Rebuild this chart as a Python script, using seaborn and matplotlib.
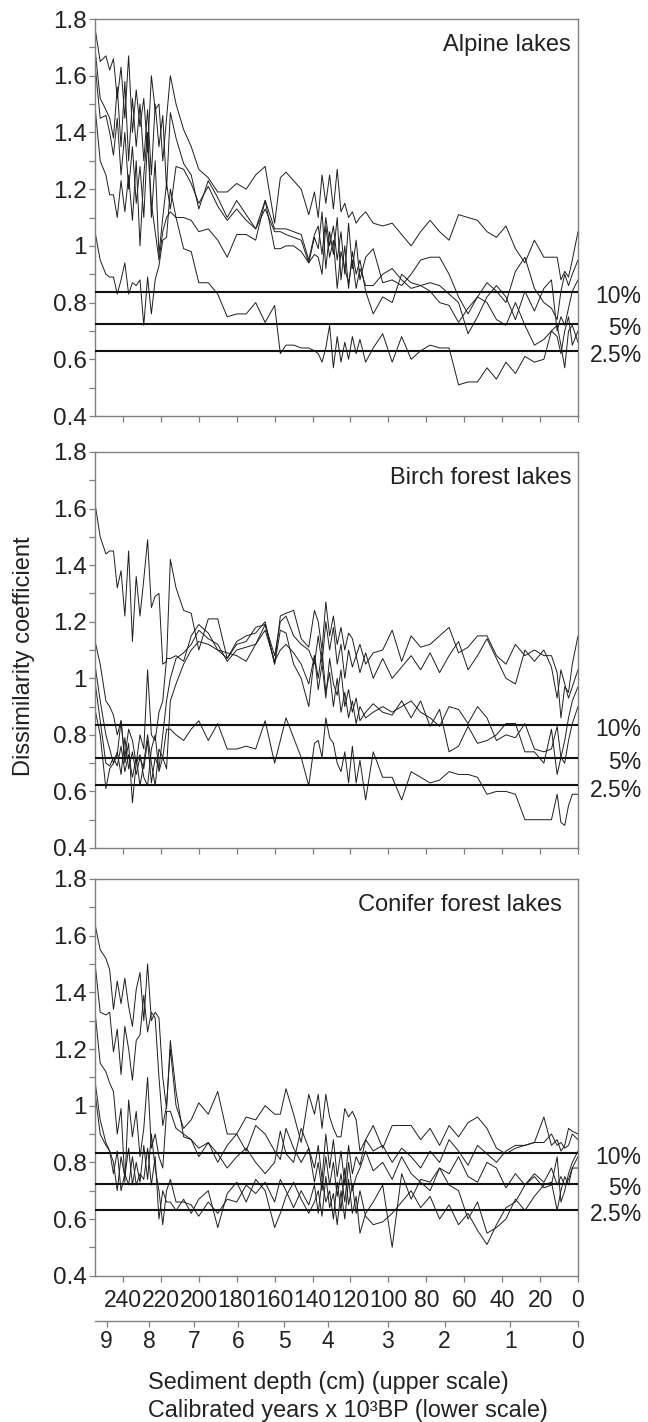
import matplotlib
matplotlib.use("Agg")
import matplotlib.pyplot as plt
import matplotlib.transforms as mtransforms
import numpy as np
import pandas as pd
import seaborn as sns

# sample depths (cm), shared by every curve
depth = [255, 252, 249, 247, 245, 243, 241, 239, 237, 235,
         233, 231, 229, 227, 225, 223, 221, 219, 217, 215,
         212, 208, 204, 200, 195, 190, 185, 180, 175, 170,
         165, 160, 157, 154, 150, 146, 142, 139, 137, 135,
         133, 131, 129, 127, 125, 123, 121, 119, 117, 115,
         112, 108, 103, 98, 93, 88, 83, 78, 73, 68,
         63, 58, 53, 48, 43, 38, 33, 28, 23, 18,
         14, 11, 9, 7, 5, 3, 0]

alpine_a = [1.78, 1.65, 1.67, 1.62, 1.66, 1.52, 1.63, 1.45, 1.67, 1.40,
            1.55, 1.42, 1.52, 1.33, 1.60, 1.48, 1.50, 1.30, 1.45, 1.60,
            1.50, 1.41, 1.35, 1.27, 1.24, 1.19, 1.19, 1.22, 1.20, 1.25,
            1.28, 1.08, 1.24, 1.26, 1.23, 1.20, 1.11, 1.19, 1.10, 1.25,
            1.15, 1.25, 1.13, 1.27, 1.12, 1.15, 1.10, 1.12, 1.08, 1.10,
            1.12, 1.08, 1.07, 1.08, 1.04, 1.00, 1.05, 1.09, 1.05, 1.02,
            1.11, 1.10, 1.09, 1.05, 1.03, 1.07, 0.99, 0.94, 1.02, 0.96,
            0.96, 0.96, 0.88, 0.91, 0.89, 0.95, 1.05]
alpine_b = [1.71, 1.52, 1.48, 1.45, 1.38, 1.56, 1.35, 1.58, 1.30, 1.52,
            1.35, 1.50, 1.30, 1.48, 1.25, 1.50, 1.35, 1.46, 1.20, 1.47,
            1.38, 1.29, 1.25, 1.13, 1.23, 1.17, 1.10, 1.16, 1.11, 1.06,
            1.16, 1.06, 1.06, 1.06, 1.05, 1.04, 0.95, 1.04, 1.07, 0.97,
            1.10, 1.00, 1.07, 0.95, 1.05, 0.90, 1.08, 0.92, 1.02, 0.88,
            0.96, 0.99, 0.87, 0.88, 0.86, 0.90, 0.95, 0.96, 0.96, 0.90,
            0.82, 0.76, 0.82, 0.87, 0.84, 0.80, 0.91, 0.96, 0.85, 0.80,
            0.78, 0.74, 0.84, 0.90, 0.86, 0.90, 0.95]
alpine_c = [1.66, 1.45, 1.46, 1.40, 1.32, 1.45, 1.25, 1.40, 1.20, 1.35,
            1.15, 1.28, 1.10, 1.38, 1.15, 1.05, 0.95, 1.05, 1.10, 1.12,
            1.10, 1.10, 1.09, 1.05, 1.06, 1.02, 0.96, 1.04, 1.04, 1.02,
            1.16, 0.99, 0.99, 1.00, 1.00, 0.98, 0.94, 0.97, 0.96, 0.90,
            1.07, 0.96, 1.02, 0.85, 0.98, 0.92, 0.87, 0.95, 0.85, 0.92,
            0.86, 0.86, 0.90, 0.92, 0.88, 0.85, 0.86, 0.87, 0.86, 0.83,
            0.80, 0.69, 0.75, 0.82, 0.86, 0.82, 0.74, 0.84, 0.77, 0.85,
            0.88, 0.70, 0.75, 0.72, 0.78, 0.84, 0.88]
alpine_d = [1.51, 1.30, 1.25, 1.18, 1.18, 1.10, 1.23, 1.12, 1.25, 1.09,
            1.30, 1.00, 1.25, 1.40, 1.10, 1.30, 0.97, 1.10, 1.22, 1.13,
            1.28, 1.27, 1.22, 1.15, 1.21, 1.14, 1.09, 1.13, 1.09, 1.06,
            1.13, 1.05, 1.05, 1.04, 1.03, 1.02, 0.94, 1.03, 0.99, 1.12,
            0.92, 1.05, 0.97, 1.10, 0.88, 1.00, 0.85, 0.98, 0.90, 0.95,
            0.84, 0.76, 0.82, 0.80, 0.90, 0.87, 0.86, 0.84, 0.80, 0.79,
            0.73, 0.78, 0.82, 0.80, 0.74, 0.72, 0.80, 0.72, 0.65, 0.67,
            0.70, 0.68, 0.62, 0.70, 0.75, 0.65, 0.70]
alpine_e = [1.06, 0.95, 0.90, 0.89, 0.89, 0.83, 0.88, 0.94, 0.83, 0.87,
            0.86, 0.88, 0.72, 0.89, 0.76, 0.88, 0.93, 1.02, 1.03, 1.20,
            1.10, 0.99, 0.98, 0.87, 0.87, 0.83, 0.75, 0.76, 0.76, 0.80,
            0.73, 0.79, 0.62, 0.65, 0.65, 0.64, 0.64, 0.63, 0.62, 0.59,
            0.64, 0.72, 0.57, 0.68, 0.59, 0.66, 0.60, 0.68, 0.62, 0.67,
            0.59, 0.64, 0.69, 0.59, 0.68, 0.60, 0.63, 0.65, 0.64, 0.64,
            0.51, 0.52, 0.52, 0.57, 0.53, 0.59, 0.55, 0.61, 0.59, 0.60,
            0.70, 0.72, 0.65, 0.57, 0.70, 0.72, 0.66]

birch_a = [1.63, 1.50, 1.44, 1.45, 1.45, 1.32, 1.38, 1.22, 1.45, 1.13,
           1.36, 1.22, 1.35, 1.49, 1.25, 1.29, 1.30, 1.05, 1.06, 1.42,
           1.32, 1.24, 1.23, 1.10, 1.21, 1.21, 1.07, 1.13, 1.15, 1.16,
           1.20, 1.05, 1.22, 1.23, 1.24, 1.14, 1.11, 1.24, 1.20, 1.10,
           1.27, 1.15, 1.22, 1.12, 1.18, 1.10, 1.16, 1.14, 1.08, 1.12,
           1.05, 1.09, 1.10, 1.17, 1.06, 1.15, 1.11, 1.12, 1.15, 1.18,
           1.09, 1.11, 1.15, 1.15, 1.08, 1.05, 1.12, 1.08, 1.10, 1.08,
           1.08, 1.02, 0.86, 0.97, 0.95, 1.05, 1.15]
birch_b = [1.14, 1.05, 0.92, 0.90, 0.87, 0.80, 0.85, 0.72, 0.82, 0.78,
           0.70, 0.80, 0.75, 1.03, 0.80, 0.78, 0.88, 0.92, 1.07, 1.07,
           1.08, 1.06, 1.15, 1.19, 1.16, 1.10, 1.07, 1.12, 1.13, 1.18,
           1.19, 1.08, 1.20, 1.22, 1.15, 1.12, 1.10, 1.05, 1.15, 1.05,
           1.20, 1.10, 1.18, 1.05, 1.12, 1.00, 1.10, 1.04, 1.08, 1.02,
           1.09, 1.00, 1.07, 1.00, 1.04, 1.08, 1.03, 1.09, 1.02, 1.08,
           1.13, 1.03, 1.08, 1.14, 1.07, 1.00, 0.98, 1.10, 1.06, 1.10,
           1.04, 0.93, 1.03, 0.98, 0.93, 0.97, 1.03]
birch_c = [1.06, 0.92, 0.80, 0.75, 0.70, 0.74, 0.66, 0.79, 0.68, 0.74,
           0.66, 0.72, 0.68, 0.78, 0.63, 0.72, 0.68, 0.80, 0.92, 1.00,
           1.07, 1.09, 1.12, 1.17, 1.14, 1.12, 1.06, 1.10, 1.11, 1.12,
           1.17, 1.06, 1.10, 1.12, 1.09, 1.05, 0.98, 1.08, 0.96, 1.05,
           0.93, 1.07, 0.98, 0.94, 1.03, 0.90, 0.96, 0.88, 0.93, 0.85,
           0.88, 0.91, 0.88, 0.87, 0.92, 0.86, 0.92, 0.83, 0.89, 0.74,
           0.76, 0.83, 0.77, 0.78, 0.80, 0.84, 0.84, 0.74, 0.74, 0.70,
           0.82, 0.66, 0.72, 0.78, 0.86, 0.92, 0.97]
birch_d = [1.00, 0.85, 0.70, 0.69, 0.72, 0.69, 0.76, 0.67, 0.73, 0.65,
           0.72, 0.62, 0.70, 0.80, 0.70, 0.62, 0.75, 0.72, 0.68, 0.92,
           0.98, 1.05, 1.10, 1.13, 1.12, 1.10, 1.09, 1.08, 1.06, 1.12,
           1.19, 1.05, 1.17, 1.16, 1.05, 1.00, 0.90, 1.08, 1.00, 1.10,
           0.95, 1.02, 0.90, 1.00, 0.88, 0.95, 0.86, 0.92, 0.84, 0.90,
           0.86, 0.88, 0.90, 0.88, 0.90, 0.92, 0.88, 0.86, 0.83, 0.90,
           0.89, 0.84, 0.90, 0.86, 0.78, 0.80, 0.79, 0.84, 0.75, 0.74,
           0.75, 0.83, 0.72, 0.70, 0.78, 0.84, 0.90]
birch_e = [0.90, 0.80, 0.61, 0.68, 0.70, 0.73, 0.85, 0.70, 0.77, 0.56,
           0.70, 0.73, 0.65, 0.62, 0.75, 0.80, 0.67, 0.72, 0.82, 0.82,
           0.80, 0.78, 0.82, 0.85, 0.78, 0.84, 0.75, 0.75, 0.76, 0.75,
           0.85, 0.70, 0.78, 0.86, 0.79, 0.72, 0.62, 0.77, 0.78, 0.72,
           0.86, 0.79, 0.77, 0.70, 0.67, 0.74, 0.63, 0.76, 0.63, 0.71,
           0.57, 0.74, 0.65, 0.65, 0.57, 0.67, 0.65, 0.63, 0.64, 0.67,
           0.66, 0.66, 0.65, 0.59, 0.60, 0.60, 0.59, 0.50, 0.50, 0.50,
           0.50, 0.59, 0.49, 0.48, 0.55, 0.59, 0.59]

conifer_a = [1.65, 1.55, 1.52, 1.48, 1.34, 1.44, 1.36, 1.45, 1.35, 1.28,
             1.41, 1.47, 1.30, 1.50, 1.30, 1.33, 1.31, 1.10, 0.99, 1.23,
             1.05, 0.89, 0.88, 0.82, 0.87, 0.80, 0.86, 0.90, 0.84, 0.93,
             0.90, 0.84, 0.81, 0.92, 0.85, 0.80, 0.85, 0.78, 0.86, 0.74,
             0.90, 0.78, 0.88, 0.75, 0.84, 0.72, 0.86, 0.76, 0.82, 0.79,
             0.88, 0.84, 0.86, 0.80, 0.85, 0.82, 0.78, 0.84, 0.80, 0.88,
             0.84, 0.79, 0.86, 0.83, 0.80, 0.84, 0.86, 0.86, 0.87, 0.87,
             0.90, 0.86, 0.87, 0.85, 0.86, 0.90, 0.88]
conifer_b = [1.52, 1.33, 1.32, 1.33, 1.19, 1.27, 1.11, 1.28, 1.20, 1.09,
             1.23, 1.25, 1.39, 1.26, 1.33, 1.31, 1.10, 0.93, 1.00, 1.20,
             1.00, 0.92, 0.95, 1.01, 0.97, 1.05, 0.90, 0.90, 0.96, 0.95,
             1.00, 0.97, 0.97, 1.06, 0.97, 0.87, 1.04, 0.97, 1.04, 0.92,
             1.04, 0.96, 0.92, 0.89, 0.89, 0.99, 0.96, 0.98, 0.95, 0.84,
             0.88, 0.93, 0.85, 0.93, 0.93, 0.93, 0.88, 0.92, 0.86, 0.93,
             0.89, 0.94, 0.96, 0.92, 0.85, 0.83, 0.85, 0.86, 0.87, 0.96,
             0.86, 0.88, 0.84, 0.86, 0.92, 0.91, 0.90]
conifer_c = [1.35, 1.15, 1.12, 1.08, 1.05, 0.90, 0.99, 0.73, 1.02, 0.89,
             0.98, 0.82, 0.92, 1.10, 0.85, 0.90, 0.82, 0.78, 0.98, 0.98,
             0.92, 0.90, 0.88, 0.85, 0.87, 0.83, 0.78, 0.82, 0.85, 0.80,
             0.76, 0.80, 0.91, 0.83, 0.80, 0.92, 0.85, 0.73, 0.80, 0.70,
             0.82, 0.72, 0.80, 0.68, 0.76, 0.66, 0.80, 0.70, 0.75, 0.78,
             0.84, 0.77, 0.80, 0.74, 0.82, 0.76, 0.73, 0.70, 0.78, 0.76,
             0.82, 0.75, 0.73, 0.80, 0.78, 0.71, 0.76, 0.72, 0.75, 0.71,
             0.72, 0.82, 0.66, 0.70, 0.76, 0.80, 0.84]
conifer_d = [1.10, 0.95, 0.87, 0.84, 0.80, 0.70, 0.82, 0.75, 0.85, 0.72,
             0.80, 0.73, 0.86, 0.74, 0.90, 0.78, 0.70, 0.58, 0.70, 0.74,
             0.66, 0.66, 0.65, 0.61, 0.66, 0.62, 0.67, 0.66, 0.72, 0.69,
             0.73, 0.66, 0.74, 0.70, 0.64, 0.70, 0.65, 0.72, 0.62, 0.74,
             0.66, 0.70, 0.60, 0.73, 0.63, 0.78, 0.65, 0.72, 0.62, 0.70,
             0.61, 0.58, 0.59, 0.62, 0.66, 0.70, 0.64, 0.68, 0.60, 0.65,
             0.58, 0.62, 0.56, 0.51, 0.58, 0.64, 0.66, 0.72, 0.76, 0.73,
             0.78, 0.72, 0.75, 0.72, 0.74, 0.78, 0.82]
conifer_e = [1.06, 0.90, 0.86, 0.84, 0.76, 0.84, 0.70, 0.76, 0.72, 0.82,
             0.72, 0.76, 0.74, 0.85, 0.72, 0.82, 0.60, 0.70, 0.66, 0.66,
             0.63, 0.67, 0.62, 0.67, 0.70, 0.57, 0.69, 0.73, 0.66, 0.74,
             0.70, 0.57, 0.62, 0.68, 0.73, 0.67, 0.62, 0.66, 0.70, 0.61,
             0.75, 0.64, 0.69, 0.58, 0.70, 0.60, 0.74, 0.62, 0.68, 0.55,
             0.62, 0.66, 0.72, 0.50, 0.76, 0.67, 0.74, 0.73, 0.78, 0.72,
             0.70, 0.60, 0.66, 0.55, 0.57, 0.60, 0.67, 0.63, 0.68, 0.72,
             0.73, 0.63, 0.70, 0.75, 0.72, 0.78, 0.78]

panel_titles = ["Alpine lakes", "Birch forest lakes", "Conifer forest lakes"]
panel_series = [[alpine_a, alpine_b, alpine_c, alpine_d, alpine_e],
                [birch_a, birch_b, birch_c, birch_d, birch_e],
                [conifer_a, conifer_b, conifer_c, conifer_d, conifer_e]]
# 10%, 5%, 2.5% cut levels for each panel
cut_labels = ["10%", "5%", "2.5%"]
cut_values = [[0.837, 0.723, 0.630],
              [0.836, 0.719, 0.621],
              [0.833, 0.724, 0.632]]

depth_ticks = [240, 220, 200, 180, 160, 140, 120, 100, 80, 60, 40, 20, 0]
age_labels = ["9", "8", "7", "6", "5", "4", "3", "2", "1", "0"]
age_depths = [248.6, 226, 202.4, 179.2, 155, 132, 100.4, 70.4, 35.7, 0]

sns.set_style("ticks")
plt.rcParams['font.family'] = ['Liberation Sans', 'DejaVu Sans']

W, H = 648, 1422
fig = plt.figure(figsize=(W / 100, H / 100), dpi=100)

grey = "#808080"
left = 94.5 / W
width = 483.5 / W
tops = [19, 452, 879]
bottoms = [416, 848, 1275.7]
title_x = [0.9855, 0.987, 0.966]

for k in range(3):
    ax = fig.add_axes([left, 1 - bottoms[k] / H, width, (bottoms[k] - tops[k]) / H])
    rows = []
    for j, vals in enumerate(panel_series[k]):
        rows.append(pd.DataFrame({"depth": depth, "value": vals, "series": j}))
    df = pd.concat(rows, ignore_index=True)
    sns.lineplot(data=df, x="depth", y="value", units="series", estimator=None,
                 sort=False, color="#1e1e1e", linewidth=0.7, legend=False, ax=ax)

    trans = mtransforms.blended_transform_factory(ax.transAxes, ax.transData)
    for lbl, v in zip(cut_labels, cut_values[k]):
        ax.axhline(v, color="#111111", linewidth=1.5, zorder=3)
        ax.text(1.1317, v - 0.016, lbl, transform=trans, ha="right", va="center",
                fontsize=16.5, color="#222222", clip_on=False)

    ax.set_xlim(255, 0)
    ax.set_ylim(0.4, 1.8)
    ax.set_yticks(np.arange(0.4, 1.81, 0.2))
    ax.set_yticks(np.arange(0.5, 1.8, 0.2), minor=True)
    ax.set_yticklabels([f"{v:g}" for v in np.round(np.arange(0.4, 1.81, 0.2), 1)])
    ax.set_xticks(depth_ticks)
    if k == 2:
        ax.set_xticklabels([str(d) for d in depth_ticks])
    else:
        ax.set_xticklabels([])
    ax.set_xlabel("")
    ax.set_ylabel("")
    for s in ax.spines.values():
        s.set_color(grey)
        s.set_linewidth(1.0)
    ax.tick_params(axis="both", which="both", direction="out", length=4.5,
                   width=0.9, color=grey, labelcolor="#222222")
    ax.tick_params(axis="y", labelsize=17.5, pad=1)
    ax.tick_params(axis="x", labelsize=16.5, pad=5)
    ax.text(title_x[k], 0.962, panel_titles[k], transform=ax.transAxes,
            ha="right", va="top", fontsize=17, color="#222222")

# lower scale: calibrated age
ax_age = fig.add_axes([left, 1 - 1320.7 / H, width, 0.0001])
ax_age.set_xlim(255, 0)
ax_age.set_yticks([])
ax_age.set_xticks(age_depths)
ax_age.set_xticklabels(age_labels)
for name, s in ax_age.spines.items():
    s.set_visible(name == "bottom")
ax_age.spines["bottom"].set_color(grey)
ax_age.spines["bottom"].set_linewidth(1.0)
ax_age.patch.set_alpha(0)
ax_age.tick_params(axis="x", direction="out", length=4, width=0.9, color=grey,
                   labelsize=16.5, labelcolor="#222222", pad=3)

fig.text(24 / W, 1 - 656 / H, "Dissimilarity coefficient", rotation=90,
         ha="center", va="center", fontsize=17, color="#222222")
fig.text(148 / W, 1 - 1382 / H, "Sediment depth (cm) (upper scale)",
         ha="left", va="center", fontsize=16.8, color="#222222")
fig.text(148 / W, 1 - 1411 / H, "Calibrated years x 10³BP (lower scale)",
         ha="left", va="center", fontsize=16.8, color="#222222")

fig.savefig("out.png", dpi=100, facecolor="white")
